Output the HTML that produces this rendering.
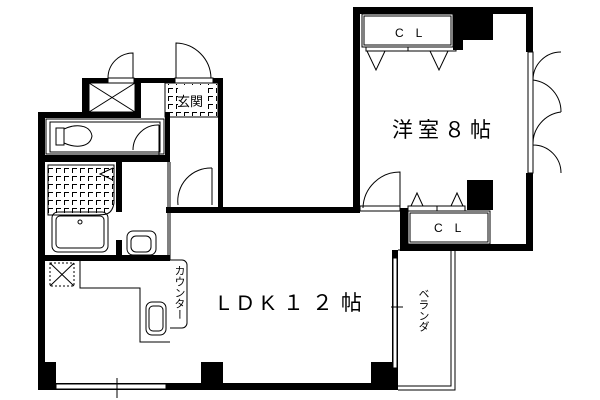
<!DOCTYPE html>
<html><head><meta charset="utf-8"><style>
html,body{margin:0;padding:0;background:#fff;}
svg{display:block}
text{font-family:"Liberation Sans","Noto Sans CJK JP",sans-serif;}
</style></head><body>
<svg width="600" height="400" viewBox="0 0 600 400" xmlns="http://www.w3.org/2000/svg">
<defs>
<pattern id="tile" width="8" height="8" patternUnits="userSpaceOnUse">
<path d="M0 0.5H5M0.5 0V5" stroke="#000" stroke-width="1"/>
</pattern>
</defs>
<rect width="600" height="400" fill="#fff"/>
<g fill="#000">
<rect x="353" y="7" width="180" height="7"/>
<rect x="353" y="7" width="7" height="203"/>
<rect x="526" y="7" width="7" height="45"/>
<rect x="526" y="173" width="7" height="78"/>
<rect x="400" y="244" width="133" height="7"/>
<rect x="457" y="14" width="36" height="26"/>
<rect x="453" y="14" width="10" height="36"/>
<rect x="467" y="180" width="26" height="30"/>
<rect x="400" y="208" width="8" height="43"/>
<rect x="166" y="207" width="194" height="6"/>
<rect x="392" y="250" width="6" height="140"/>
<rect x="38" y="383" width="360" height="7"/>
<rect x="40" y="362" width="16" height="28"/>
<rect x="201" y="362" width="22" height="28"/>
<rect x="371" y="362" width="22" height="28"/>
<rect x="38" y="112" width="7" height="278"/>
<rect x="82" y="78" width="141" height="5"/>
<rect x="82" y="78" width="7" height="40"/>
<rect x="135" y="78" width="6" height="40"/>
<rect x="218" y="78" width="5" height="135"/>
<rect x="38" y="112" width="102" height="6"/>
<rect x="38" y="155" width="132" height="7"/>
<rect x="38" y="255" width="132" height="6"/>
<rect x="116" y="162" width="6" height="50"/>
<rect x="116" y="240" width="6" height="16"/>
<rect x="165" y="112" width="5" height="48"/>
</g>
<rect x="108" y="78" width="26" height="5" fill="#fff" stroke="#000" stroke-width="1"/>
<rect x="175" y="78" width="38" height="5" fill="#fff" stroke="#000" stroke-width="1"/>
<rect x="360" y="206" width="40" height="5" fill="#fff" stroke="#000" stroke-width="1"/>
<rect x="528" y="52" width="5" height="121" fill="#fff" stroke="#000"/>
<rect x="56" y="384" width="110" height="5" fill="#fff" stroke="#000"/>
<rect x="393" y="258" width="4" height="110" fill="#fff" stroke="#000"/>
<g fill="none" stroke="#000" stroke-width="1">
<path d="M133 78V53A25 25 0 0 0 108 78"/>
<path d="M176 78V43A36 36 0 0 1 211 78"/>
<path d="M400 208V172A37 37 0 0 0 363 208"/>
<path d="M533 80A28 28 0 0 1 561 52M533 80A32 32 0 0 1 561 112M533 145A32 32 0 0 1 561 112M533 145A28 28 0 0 1 561 173"/>
<path d="M159 125A25 25 0 0 0 133 150M159 125V155"/>
<path d="M212 168A33 33 0 0 0 178 205M212 168V205"/>
<rect x="89" y="83" width="46" height="29"/>
<path d="M89 83L135 112M135 83L89 112"/>
<rect x="165" y="83" width="53" height="34"/>
<rect x="166" y="84" width="51" height="32" fill="url(#tile)" stroke="none"/>
<rect x="178" y="88" width="30" height="22" fill="#fff" stroke="none"/>
<rect x="46" y="119" width="118" height="35"/>
<rect x="50" y="122" width="110" height="30"/>
<path d="M56 128h8v17h-8zM64 129C75 124 90 124 92 136C90 148 75 148 64 143"/>
<path d="M48 165h66v38c-2 12-8 12-20 12H48z" fill="url(#tile)"/>
<path d="M113 168L100 174L113 180"/>
<rect x="52" y="212" width="56" height="40" rx="6"/>
<rect x="56" y="216" width="48" height="32" rx="4"/>
<circle cx="80" cy="222" r="2"/>
<rect x="127" y="231" width="29" height="24" rx="6"/>
<rect x="131" y="236" width="20" height="16" rx="5"/>
<path d="M170 162V260M168 162V260"/>
<rect x="362" y="14" width="91" height="33"/>
<rect x="364" y="16" width="87" height="29"/>
<path d="M366 47h90v4h-90zM408 47v4"/>
<path d="M367 51L376 70L385 51M430 51L439 70L448 51"/>
<rect x="408" y="211" width="82" height="33"/>
<rect x="410" y="213" width="78" height="29"/>
<path d="M408 206h57v5h-57zM437 206v5"/>
<path d="M411 206L417 193L423 206M451 206L457 193L463 206"/>
<rect x="50" y="263" width="24" height="23" stroke-dasharray="2,2"/>
<path d="M50 263L74 286M74 263L50 286"/>
<path d="M80 261V288H140V342H170"/>
<path d="M170 260H182A5 5 0 0 1 187 265V323A5 5 0 0 1 182 328H170"/>
<rect x="146" y="302" width="20" height="33" rx="6"/>
<rect x="149" y="306" width="14" height="25" rx="4"/>
<path d="M398 250H455V390H398M451 250V386H398"/>
<path d="M117 378v20M391 307h12"/>
</g>
<text x="395" y="37" font-size="12" letter-spacing="12">CL</text>
<text x="434" y="232" font-size="12" letter-spacing="12">CL</text>
<text x="392" y="137" font-size="21" letter-spacing="5">洋室８帖</text>
<text x="177" y="106" font-size="13">玄関</text>
<text x="218" y="310" font-size="21" letter-spacing="8">LDK１２帖</text>
<text font-size="11" x="179" y="265" style="writing-mode:vertical-rl">カウンター</text>
<text font-size="11" x="423" y="288" style="writing-mode:vertical-rl">ベランダ</text>
</svg>
</body></html>
